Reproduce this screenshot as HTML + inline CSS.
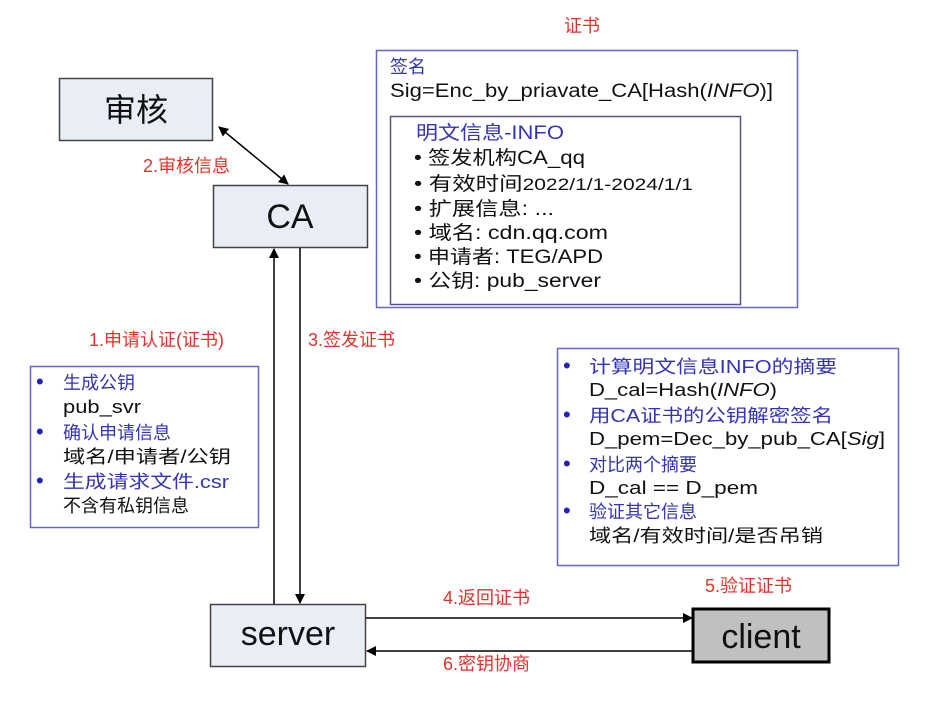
<!DOCTYPE html>
<html><head><meta charset="utf-8"><style>
body{margin:0;background:#fff}
svg text{font-family:"Liberation Sans","Noto Sans CJK SC",sans-serif}
</style></head><body>
<svg width="931" height="699" viewBox="0 0 931 699" xmlns="http://www.w3.org/2000/svg">
<defs>
<marker id="a" markerWidth="10" markerHeight="10" refX="9" refY="5" orient="auto" markerUnits="userSpaceOnUse"><path d="M0,0 L10,5 L0,10 z" fill="#000"/></marker>
<marker id="b" markerWidth="10" markerHeight="10" refX="1" refY="5" orient="auto" markerUnits="userSpaceOnUse"><path d="M10,0 L0,5 L10,10 z" fill="#000"/></marker>
</defs>
<rect x="59.5" y="78.5" width="153" height="62" fill="#e9edf6" stroke="#444" stroke-width="1.5"/>
<text x="136" y="121" font-size="32" text-anchor="middle" fill="#111">审核</text>
<rect x="213.5" y="185.5" width="154" height="62" fill="#e9edf6" stroke="#444" stroke-width="1.5"/>
<text x="290" y="228" font-size="34" text-anchor="middle" fill="#111">CA</text>
<rect x="210.5" y="604.5" width="155" height="62" fill="#e9edf6" stroke="#444" stroke-width="1.5"/>
<text x="288" y="645" font-size="34" text-anchor="middle" fill="#111">server</text>
<rect x="693" y="609" width="136" height="53" fill="#c0c0c0" stroke="#000" stroke-width="3"/>
<text x="761" y="648" font-size="34" text-anchor="middle" fill="#111">client</text>
<line x1="219" y1="127" x2="288" y2="184" stroke="#000" stroke-width="1.5" marker-start="url(#b)" marker-end="url(#a)"/>
<line x1="274" y1="604" x2="274" y2="249" stroke="#000" stroke-width="1.5" marker-end="url(#a)"/>
<line x1="300" y1="248" x2="300" y2="603" stroke="#000" stroke-width="1.5" marker-end="url(#a)"/>
<line x1="366" y1="618" x2="692" y2="618" stroke="#000" stroke-width="1.5" marker-end="url(#a)"/>
<line x1="692" y1="651" x2="367" y2="651" stroke="#000" stroke-width="1.5" marker-end="url(#a)"/>
<g fill="#e8302a" font-size="18">
<text x="582" y="32" text-anchor="middle">证书</text>
<text x="143" y="172">2.审核信息</text>
<text x="89" y="346">1.申请认证(证书)</text>
<text x="308" y="346">3.签发证书</text>
<text x="443" y="604">4.返回证书</text>
<text x="443" y="670">6.密钥协商</text>
<text x="705" y="592">5.验证证书</text>
</g>
<rect x="376.5" y="50.5" width="421" height="257" fill="none" stroke="#6666cc" stroke-width="1.5"/>
<text x="390" y="73" font-size="18" fill="#3333bb">签名</text>
<text x="390" y="97" font-size="19" fill="#111" textLength="383" lengthAdjust="spacingAndGlyphs">Sig=Enc_by_priavate_CA[Hash(<tspan font-style="italic">INFO</tspan>)]</text>
<rect x="390.5" y="116.5" width="350" height="188" fill="none" stroke="#555588" stroke-width="1.5"/>
<text x="416" y="139" font-size="19" fill="#3333bb" textLength="148" lengthAdjust="spacingAndGlyphs">明文信息-INFO</text>
<g font-size="19" fill="#111">
<text x="414" y="164" textLength="171" lengthAdjust="spacingAndGlyphs">• 签发机构CA_qq</text>
<text x="414" y="190" textLength="279" lengthAdjust="spacingAndGlyphs">• 有效时间<tspan font-size="17">2022/1/1-2024/1/1</tspan></text>
<text x="414" y="215" textLength="140" lengthAdjust="spacingAndGlyphs">• 扩展信息: ...</text>
<text x="414" y="239" textLength="194" lengthAdjust="spacingAndGlyphs">• 域名: cdn.qq.com</text>
<text x="414" y="263" textLength="189" lengthAdjust="spacingAndGlyphs">• 申请者: TEG/APD</text>
<text x="414" y="287" textLength="187" lengthAdjust="spacingAndGlyphs">• 公钥: pub_server</text>
</g>
<rect x="30.5" y="366.5" width="228" height="161" fill="#fff" stroke="#6666cc" stroke-width="1.5"/>
<g font-size="18">
<text x="36" y="389" fill="#2222bb" font-size="22">•</text><text x="63" y="389" fill="#3333bb">生成公钥</text>
<text x="63" y="413" fill="#111" textLength="78" lengthAdjust="spacingAndGlyphs">pub_svr</text>
<text x="36" y="439" fill="#2222bb" font-size="22">•</text><text x="63" y="439" fill="#3333bb">确认申请信息</text>
<text x="63" y="463" fill="#111" textLength="168" lengthAdjust="spacingAndGlyphs">域名/申请者/公钥</text>
<text x="36" y="488" fill="#2222bb" font-size="22">•</text><text x="63" y="488" fill="#3333bb" textLength="166" lengthAdjust="spacingAndGlyphs">生成请求文件.csr</text>
<text x="63" y="512" fill="#111">不含有私钥信息</text>
</g>
<rect x="557.5" y="348.5" width="341" height="217" fill="#fff" stroke="#6666cc" stroke-width="1.5"/>
<g font-size="18">
<text x="563" y="373" fill="#2222bb" font-size="22">•</text><text x="589" y="373" fill="#3333bb" textLength="248" lengthAdjust="spacingAndGlyphs">计算明文信息INFO的摘要</text>
<text x="589" y="396" fill="#111" textLength="188" lengthAdjust="spacingAndGlyphs">D_cal=Hash(<tspan font-style="italic">INFO</tspan>)</text>
<text x="563" y="422" fill="#2222bb" font-size="22">•</text><text x="589" y="422" fill="#3333bb" textLength="244" lengthAdjust="spacingAndGlyphs">用CA证书的公钥解密签名</text>
<text x="589" y="445" fill="#111" textLength="296" lengthAdjust="spacingAndGlyphs">D_pem=Dec_by_pub_CA[<tspan font-style="italic">Sig</tspan>]</text>
<text x="563" y="471" fill="#2222bb" font-size="22">•</text><text x="589" y="471" fill="#3333bb">对比两个摘要</text>
<text x="589" y="494" fill="#111" textLength="169" lengthAdjust="spacingAndGlyphs">D_cal == D_pem</text>
<text x="563" y="518" fill="#2222bb" font-size="22">•</text><text x="589" y="518" fill="#3333bb">验证其它信息</text>
<text x="589" y="542" fill="#111" textLength="234" lengthAdjust="spacingAndGlyphs">域名/有效时间/是否吊销</text>
</g>
</svg>
</body></html>
